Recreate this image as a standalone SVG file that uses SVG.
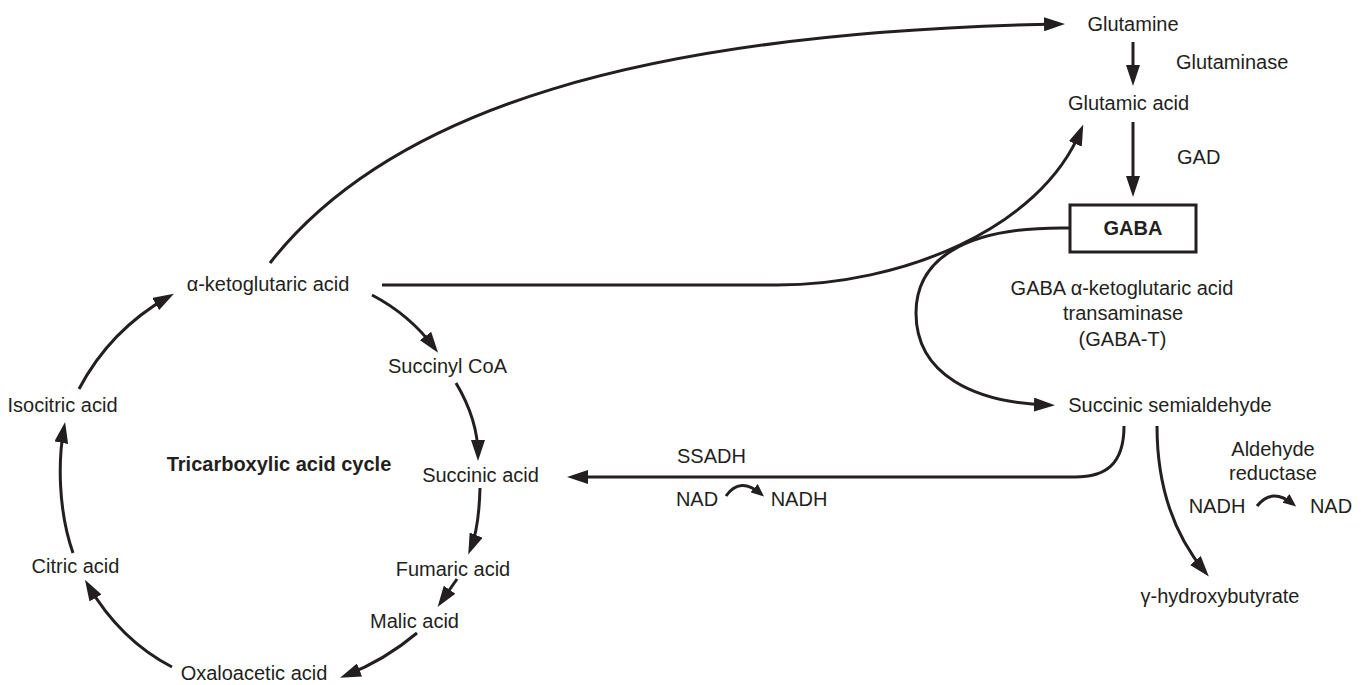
<svg xmlns="http://www.w3.org/2000/svg" width="1361" height="685" viewBox="0 0 1361 685">
<style>
text{font-family:"Liberation Sans",Arial,sans-serif;font-size:20px;fill:#231f20;text-anchor:middle}
.b{font-weight:bold}
.s{text-anchor:start}
.c{fill:none;stroke:#231f20;stroke-width:3;marker-end:url(#ah)}
.cs{fill:none;stroke:#231f20;stroke-width:3;marker-end:url(#ahs)}
</style>
<defs>
<marker id="ah" viewBox="0 0 21 14" refX="15" refY="7" markerWidth="21" markerHeight="14" markerUnits="userSpaceOnUse" orient="auto"><path d="M0,0 L21,7 L0,14 z" fill="#231f20"/></marker>
<marker id="ahs" viewBox="0 0 13 11" refX="9" refY="5.5" markerWidth="13" markerHeight="11" markerUnits="userSpaceOnUse" orient="auto"><path d="M0,0 L13,5.5 L0,11 z" fill="#231f20"/></marker>
</defs>
<g id="connectors">
<path class="c" d="M270,263 C390,110 640,32 1059,24"/>
<path class="c" d="M382,285 H777 C900,285 1040,230 1081,130"/>
<path class="c" d="M1133,42 V80"/>
<path class="c" d="M1133,122 V191"/>
<path class="c" d="M1070,228 C960,226 916,262 916,313 C916,375 975,403 1049,405"/>
<path class="c" d="M372,295 Q410,315 434.5,348"/>
<path class="c" d="M456,383 Q478,420 478,455"/>
<path class="c" d="M480,488 Q479,528 470.5,549"/>
<path class="c" d="M457,579 L441,602"/>
<path class="c" d="M417,633 Q385,660 345.6,675.5"/>
<path class="c" d="M172,667 Q120,640 88,585"/>
<path class="c" d="M73,553 C58,510 58,460 64,428"/>
<path class="c" d="M79,389 Q110,330 168.7,296.6"/>
<path class="c" d="M1124,426 C1124,465 1105,477 1075,477 L573,477"/>
<path class="c" d="M1157,426 C1157,480 1170,530 1205,572"/>
<path class="cs" d="M726,496 Q740,476 761,494"/>
<path class="cs" d="M1257,506 Q1272,487 1293,504"/>
</g>
<g id="glutamine"><text x="1133" y="31">Glutamine</text></g>
<g id="glutaminase"><text class="s" x="1176" y="69">Glutaminase</text></g>
<g id="glutamic"><text x="1128.5" y="110">Glutamic acid</text></g>
<g id="gad"><text class="s" x="1177" y="164">GAD</text></g>
<g id="gaba"><rect x="1070" y="205" width="126" height="47" fill="none" stroke="#231f20" stroke-width="3"/><text class="b" x="1133" y="235">GABA</text></g>
<g id="gabat"><text x="1122" y="295">GABA α-ketoglutaric acid</text><text x="1123" y="320">transaminase</text><text x="1122.5" y="346">(GABA-T)</text></g>
<g id="ssa"><text x="1170" y="412">Succinic semialdehyde</text></g>
<g id="ssadh"><text class="s" x="677" y="463">SSADH</text><text x="697" y="506">NAD</text><text x="799" y="506">NADH</text></g>
<g id="aldred"><text x="1273" y="456">Aldehyde</text><text x="1273" y="480">reductase</text><text x="1217" y="513">NADH</text><text x="1331" y="513">NAD</text></g>
<g id="ghb"><text x="1220" y="603">γ-hydroxybutyrate</text></g>
<g id="akg"><text x="268" y="291">α-ketoglutaric acid</text></g>
<g id="succoa"><text x="447.5" y="373">Succinyl CoA</text></g>
<g id="succinic"><text x="480.5" y="482">Succinic acid</text></g>
<g id="fumaric"><text x="453" y="576">Fumaric acid</text></g>
<g id="malic"><text x="414.5" y="628">Malic acid</text></g>
<g id="oxalo"><text x="254" y="680">Oxaloacetic acid</text></g>
<g id="citric"><text x="75.5" y="573">Citric acid</text></g>
<g id="isocitric"><text x="62.5" y="412">Isocitric acid</text></g>
<g id="tca"><text class="b" x="279" y="471">Tricarboxylic acid cycle</text></g>
</svg>
